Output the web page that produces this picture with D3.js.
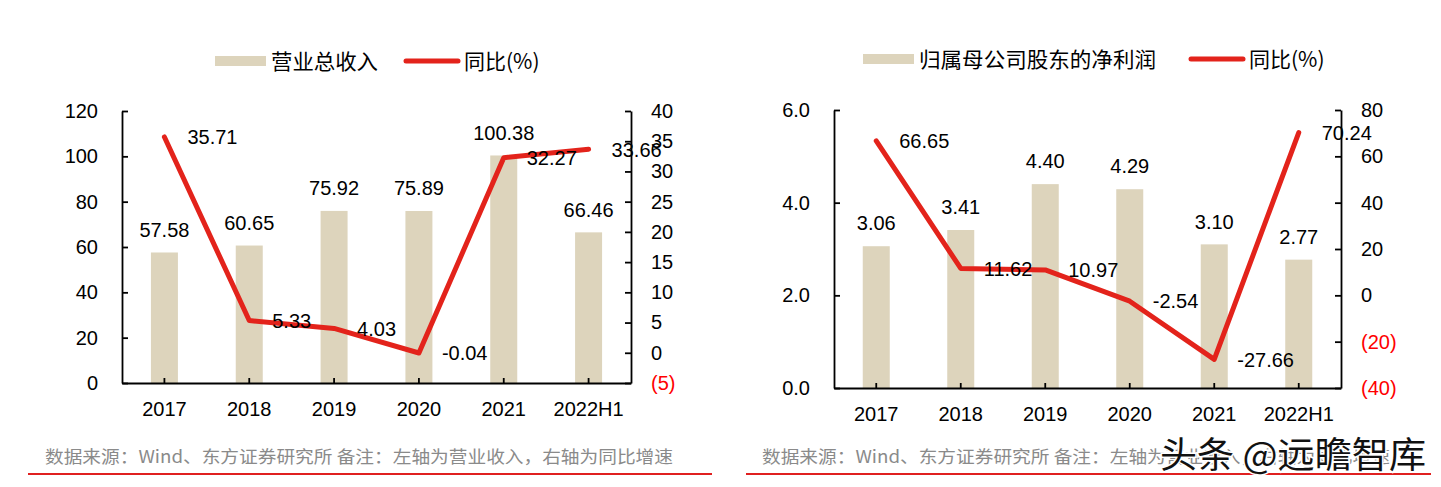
<!DOCTYPE html>
<html>
<head>
<meta charset="utf-8">
<script src="https://cdn.jsdelivr.net/npm/d3@7"></script>
<style>
  html, body { margin: 0; padding: 0; background: #fff; }
  svg { display: block; }
  text { font-family: "Liberation Sans", Arial, "Noto Sans CJK SC", sans-serif; }
</style>
</head>
<body>
<svg id="chart" width="1441" height="487"></svg>
<script>
// ---- Data ----
const categories = ["2017", "2018", "2019", "2020", "2021", "2022H1"];

const revenue = [57.58, 60.65, 75.92, 75.89, 100.38, 66.46];
const revenueYoY = [35.71, 5.33, 4.03, -0.04, 32.27, 33.66];
const revenueLeftTicks = [0, 20, 40, 60, 80, 100, 120];
const revenueRightTicks = [-5, 0, 5, 10, 15, 20, 25, 30, 35, 40];

const netProfit = [3.06, 3.41, 4.40, 4.29, 3.10, 2.77];
const netProfitYoY = [66.65, 11.62, 10.97, -2.54, -27.66, 70.24];
const profitLeftTicks = [0, 2, 4, 6];
const profitRightTicks = [-40, -20, 0, 20, 40, 60, 80];

const legendBar1 = "营业总收入";
const legendBar2 = "归属母公司股东的净利润";
const legendLine = "同比(%)";
const footerText = "数据来源：Wind、东方证券研究所 备注：左轴为营业收入，右轴为同比增速";
const watermark = "头条 @远瞻智库";

const BAR_COLOR = "#DDD4BC";
const LINE_COLOR = "#E3231B";

const fmt2 = d => d.toFixed(2);

const svg = d3.select("#chart");

function drawChart(cfg) {
  const g = svg.append("g");
  const x = d3.scaleBand().domain(categories).range([cfg.x0, cfg.x1]).paddingInner(0).paddingOuter(0);
  const yL = d3.scaleLinear().domain(cfg.leftDomain).range([cfg.yBottom, cfg.yTop]);
  const yR = d3.scaleLinear().domain(cfg.rightDomain).range([cfg.yBottom, cfg.yTop]);
  const bw = 27;

  // bars
  g.selectAll("rect.bar").data(cfg.bars).enter().append("rect")
    .attr("class", "bar")
    .attr("x", (d, i) => x(categories[i]) + x.bandwidth() / 2 - bw / 2)
    .attr("width", bw)
    .attr("y", d => yL(d))
    .attr("height", d => yL(cfg.leftDomain[0]) - yL(d))
    .attr("fill", BAR_COLOR);

  // axes
  const axL = d3.axisLeft(yL).tickValues(cfg.leftTicks).tickFormat(cfg.leftFormat)
    .tickSizeInner(-6).tickSizeOuter(0).tickPadding(24);
  const axR = d3.axisRight(yR).tickValues(cfg.rightTicks).tickFormat(d => d < 0 ? "(" + (-d) + ")" : String(d))
    .tickSizeInner(-6).tickSizeOuter(0).tickPadding(20);
  const axB = d3.axisBottom(x).tickSizeInner(-5).tickSizeOuter(0).tickPadding(19);

  function styleAxis(sel) {
    sel.selectAll("path.domain").attr("stroke", "#000").attr("stroke-width", 1.8).attr("fill", "none");
    sel.selectAll(".tick line").attr("stroke", "#000").attr("stroke-width", 1.8);
    sel.selectAll(".tick text").attr("font-size", 20).attr("fill", "#000")
      .style("font-family", '"Liberation Sans", Arial, sans-serif');
  }
  g.append("g").attr("transform", `translate(${cfg.x0},0)`).call(axL).call(styleAxis);
  const gR = g.append("g").attr("transform", `translate(${cfg.x1},0)`).call(axR).call(styleAxis);
  gR.selectAll(".tick text").attr("fill", d => d < 0 ? "#FF0000" : "#000");
  g.append("g").attr("transform", `translate(0,${cfg.yBottom})`).call(axB).call(styleAxis);

  // line
  const line = d3.line().x((d, i) => x(categories[i]) + x.bandwidth() / 2).y(d => yR(d));
  g.append("path").datum(cfg.line).attr("d", line)
    .attr("fill", "none").attr("stroke", LINE_COLOR).attr("stroke-width", 5)
    .attr("stroke-linejoin", "round").attr("stroke-linecap", "round");

  // bar labels
  g.selectAll("text.barlab").data(cfg.bars).enter().append("text")
    .attr("class", "barlab")
    .attr("x", (d, i) => x(categories[i]) + x.bandwidth() / 2)
    .attr("y", d => yL(d) - 23)
    .attr("dy", "0.36em")
    .attr("text-anchor", "middle")
    .attr("font-size", 20)
    .attr("fill", "#000")
    .text(d => fmt2(d));

  // line labels
  g.selectAll("text.linelab").data(cfg.line).enter().append("text")
    .attr("class", "linelab")
    .attr("x", (d, i) => x(categories[i]) + x.bandwidth() / 2 + 23)
    .attr("y", d => yR(d))
    .attr("dy", "0.36em")
    .attr("text-anchor", "start")
    .attr("font-size", 20)
    .attr("fill", "#000")
    .text(d => fmt2(d));

  // legend
  const L = cfg.legend;
  g.append("rect").attr("x", L.rectX).attr("y", L.y - 5).attr("width", 51).attr("height", 10).attr("fill", BAR_COLOR);
  g.append("text").attr("x", L.rectX + 56).attr("y", L.y).attr("dy", "0.36em")
    .attr("font-size", 21).attr("fill", "#000")
    .style("font-family", '"Noto Sans CJK SC", sans-serif')
    .attr("textLength", L.textLen).attr("lengthAdjust", "spacingAndGlyphs")
    .text(cfg.barName);
  g.append("line").attr("x1", L.lineX).attr("x2", L.lineX + 52).attr("y1", L.y).attr("y2", L.y)
    .attr("stroke", LINE_COLOR).attr("stroke-width", 5).attr("stroke-linecap", "round");
  g.append("text").attr("x", L.lineX + 58).attr("y", L.y).attr("dy", "0.36em")
    .attr("font-size", 21).attr("fill", "#000")
    .style("font-family", '"Noto Sans CJK SC", "Liberation Sans", sans-serif')
    .text(legendLine);

  // footer
  g.append("text").attr("x", cfg.footerX).attr("y", 457).attr("dy", "0.36em")
    .attr("font-size", 17).attr("fill", "#8A8A8A")
    .style("font-family", '"Noto Sans CJK SC", sans-serif')
    .attr("textLength", 628).attr("lengthAdjust", "spacingAndGlyphs")
    .text(footerText);
  g.append("line").attr("x1", cfg.ruleX0).attr("x2", cfg.ruleX1).attr("y1", 474).attr("y2", 474)
    .attr("stroke", "#E02020").attr("stroke-width", 2.2);
}

drawChart({
  x0: 122, x1: 631, yTop: 111, yBottom: 383,
  leftDomain: [0, 120], rightDomain: [-5, 40],
  leftTicks: revenueLeftTicks, rightTicks: revenueRightTicks,
  leftFormat: d => String(d),
  bars: revenue, line: revenueYoY, barName: legendBar1,
  legend: { rectX: 215, y: 61, textLen: 107, lineX: 406 },
  footerX: 45, ruleX0: 28, ruleX1: 712
});

drawChart({
  x0: 834, x1: 1341, yTop: 110, yBottom: 388,
  leftDomain: [0, 6], rightDomain: [-40, 80],
  leftTicks: profitLeftTicks, rightTicks: profitRightTicks,
  leftFormat: d => d.toFixed(1),
  bars: netProfit, line: netProfitYoY, barName: legendBar2,
  legend: { rectX: 863, y: 59, textLen: 237, lineX: 1191 },
  footerX: 762, ruleX0: 746, ruleX1: 1431
});

// watermark
svg.append("text").attr("x", 1160).attr("y", 455).attr("dy", "0.36em")
  .attr("font-size", 36).attr("fill", "#111")
  .attr("stroke", "#fff").attr("stroke-width", 3).style("paint-order", "stroke")
  .style("font-family", '"Noto Sans CJK SC", sans-serif')
  .attr("textLength", 266).attr("lengthAdjust", "spacingAndGlyphs")
  .text(watermark);
</script>
</body>
</html>
